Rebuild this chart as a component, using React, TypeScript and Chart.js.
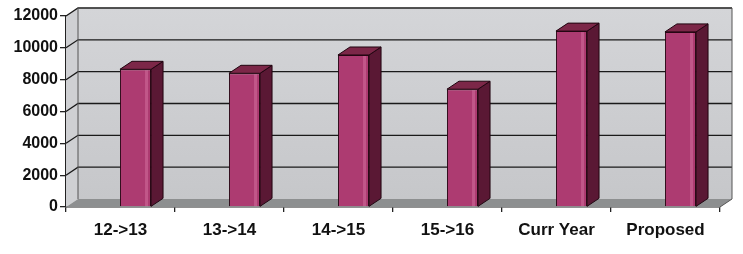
import React, { useEffect, useRef } from "react";
import { Chart, registerables } from "chart.js";

Chart.register(...registerables);

const categories = ["12->13", "13->14", "14->15", "15->16", "Curr Year", "Proposed"];
const values = [8650, 8400, 9550, 7400, 11050, 11000];
const yTicks = [0, 2000, 4000, 6000, 8000, 10000, 12000];

const DX = 12;
const DY = 8;
const SHIFT = 15;

const wallPlugin = {
  id: "wall3d",
  beforeDatasetsDraw(chart: any) {
    const { ctx, chartArea } = chart;
    const { left, right, top, bottom } = chartArea;
    const y = chart.scales.y;
    ctx.save();
    const g = ctx.createLinearGradient(0, top - DY, 0, bottom - DY);
    g.addColorStop(0, "#d4d5d8");
    g.addColorStop(1, "#c6c7ca");
    ctx.fillStyle = g;
    ctx.fillRect(left + DX, top - DY, right - left, bottom - top);
    ctx.fillStyle = "#cfd0d3";
    ctx.beginPath();
    ctx.moveTo(left, top);
    ctx.lineTo(left + DX, top - DY);
    ctx.lineTo(left + DX, bottom - DY);
    ctx.lineTo(left, bottom);
    ctx.closePath();
    ctx.fill();
    ctx.fillStyle = "#8d8f90";
    ctx.beginPath();
    ctx.moveTo(left, bottom);
    ctx.lineTo(left + DX, bottom - DY);
    ctx.lineTo(right + DX, bottom - DY);
    ctx.lineTo(right, bottom);
    ctx.closePath();
    ctx.fill();
    ctx.strokeStyle = "#1a1a1a";
    ctx.lineWidth = 1.3;
    yTicks.forEach((v) => {
      if (v === 0) return;
      const py = y.getPixelForValue(v);
      ctx.beginPath();
      ctx.moveTo(left, py);
      ctx.lineTo(left + DX, py - DY);
      ctx.lineTo(right + DX, py - DY);
      ctx.stroke();
    });
    ctx.strokeStyle = "#555";
    ctx.lineWidth = 1;
    ctx.beginPath();
    ctx.moveTo(left + DX, bottom - DY);
    ctx.lineTo(left + DX, top - DY);
    ctx.lineTo(right + DX, top - DY);
    ctx.lineTo(right + DX, bottom - DY);
    ctx.lineTo(right, bottom);
    ctx.stroke();
    ctx.restore();
    ctx.save();
    ctx.translate(SHIFT, 0);
  },
  afterDatasetsDraw(chart: any) {
    const { ctx } = chart;
    const meta = chart.getDatasetMeta(0);
    meta.data.forEach((bar: any) => {
      const { x, y, base, width } = bar.getProps(["x", "y", "base", "width"], true);
      const l = x - width / 2;
      const r = x + width / 2;
      ctx.fillStyle = "#5a1834";
      ctx.strokeStyle = "#200510";
      ctx.lineWidth = 1;
      ctx.beginPath();
      ctx.moveTo(r, y);
      ctx.lineTo(r + DX, y - DY);
      ctx.lineTo(r + DX, base - DY);
      ctx.lineTo(r, base);
      ctx.closePath();
      ctx.fill();
      ctx.stroke();
      ctx.fillStyle = "#7c2748";
      ctx.beginPath();
      ctx.moveTo(l, y);
      ctx.lineTo(l + DX, y - DY);
      ctx.lineTo(r + DX, y - DY);
      ctx.lineTo(r, y);
      ctx.closePath();
      ctx.fill();
      ctx.stroke();
      ctx.fillStyle = "rgba(255,170,210,0.25)";
      ctx.fillRect(r - 6, y + 1, 3, base - y - 1);
    });
    ctx.restore();
  },
};

export default function App() {
  const ref = useRef<HTMLCanvasElement>(null);
  useEffect(() => {
    document.body.style.margin = "0";
    document.body.style.background = "#ffffff";
    const chart = new Chart(ref.current!, {
      type: "bar",
      data: {
        labels: categories,
        datasets: [
          {
            data: values,
            backgroundColor: "#ad3b71",
            borderColor: "#2a0815",
            borderWidth: 1,
            barPercentage: 0.285,
            categoryPercentage: 1,
          },
        ],
      },
      options: {
        animation: false,
        responsive: false,
        devicePixelRatio: 1,
        layout: { padding: { left: 0, top: 16, right: 23, bottom: 0 } },
        plugins: { legend: { display: false }, tooltip: { enabled: false } },
        scales: {
          x: {
            grid: { drawOnChartArea: false, tickLength: 5, color: "#222", lineWidth: 1.3 },
            border: { display: true, color: "#222", width: 1.5 },
            ticks: {
              color: "#111",
              padding: 8,
              font: { family: "Liberation Sans, Arial", size: 17, weight: "bold" },
              maxRotation: 0,
            },
            afterFit(scale: any) {
              scale.height = 47;
            },
          },
          y: {
            min: 0,
            max: 12000,
            afterBuildTicks(scale: any) {
              scale.ticks = yTicks.map((v) => ({ value: v }));
            },
            grid: { drawOnChartArea: false, tickLength: 6, color: "#222", lineWidth: 1.3 },
            border: { display: true, color: "#222", width: 1.5 },
            ticks: {
              color: "#111",
              padding: 2,
              font: { family: "Liberation Sans, Arial", size: 16, weight: "bold" },
              callback: (v: any) => String(v),
            },
            afterFit(scale: any) {
              scale.width = 66;
            },
          },
        },
      },
      plugins: [wallPlugin],
    });
    return () => chart.destroy();
  }, []);
  return <canvas ref={ref} width={743} height={254} style={{ display: "block" }} />;
}
